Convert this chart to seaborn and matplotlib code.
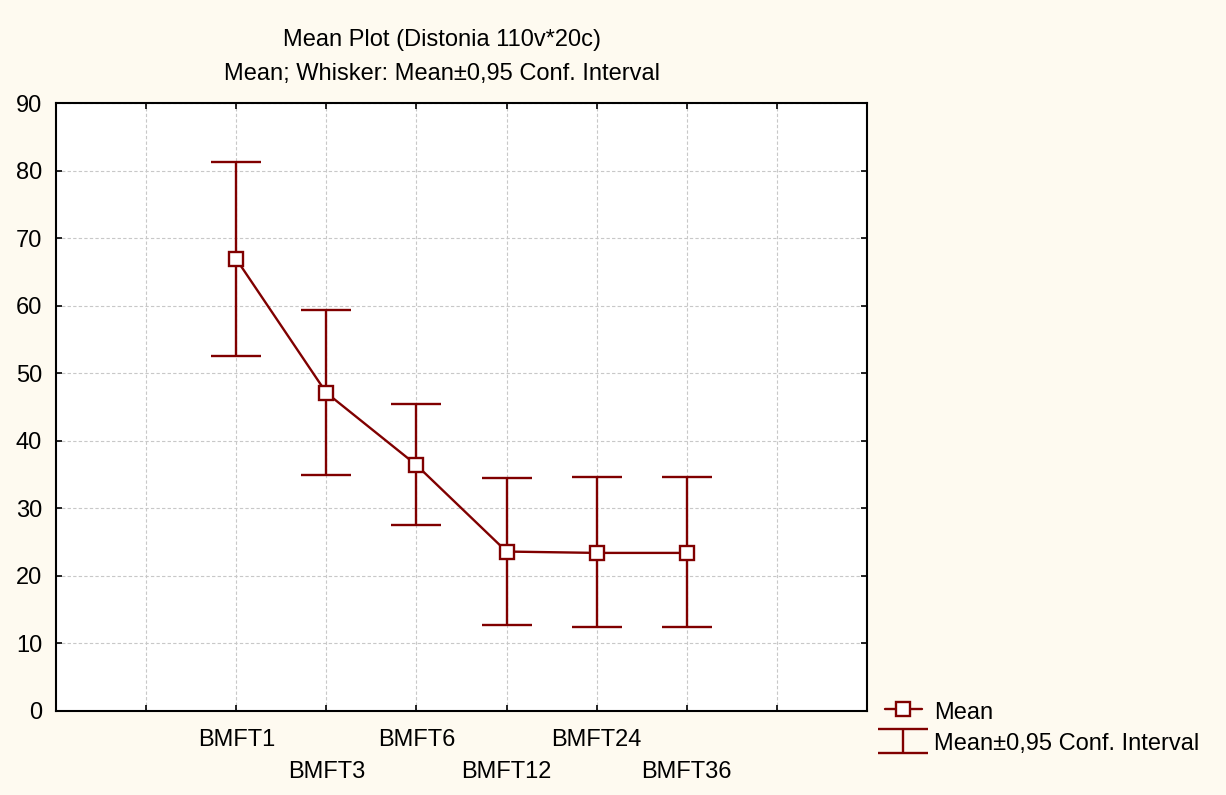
import matplotlib
matplotlib.use("Agg")
import matplotlib.pyplot as plt
import seaborn as sns
import pandas as pd
from matplotlib.lines import Line2D

# data
groups = ['BMFT1', 'BMFT3', 'BMFT6', 'BMFT12', 'BMFT24', 'BMFT36']
means = [66.9, 47.1, 36.4, 23.6, 23.4, 23.4]
ci_low = [52.6, 34.9, 27.5, 12.7, 12.4, 12.4]
ci_high = [81.2, 59.4, 45.5, 34.5, 34.6, 34.6]

df = pd.DataFrame({'pos': range(len(groups)), 'group': groups, 'mean': means,
                   'lo': ci_low, 'hi': ci_high})

sns.set_style('white')
plt.rcParams['font.family'] = ['Liberation Sans', 'DejaVu Sans']
plt.rcParams['text.color'] = 'black'

fs = 17
red = '#800000'
fig = plt.figure(figsize=(12.26, 7.95), dpi=100, facecolor='#FEFAF0')
ax = fig.add_axes([0.0457, 0.1057, 0.6615, 0.7647])
ax.set_facecolor('white')

# whiskers
err = ax.errorbar(df['pos'], df['mean'],
                  yerr=[df['mean'] - df['lo'], df['hi'] - df['mean']],
                  fmt='none', ecolor=red, elinewidth=1.7, capsize=18, capthick=1.7,
                  zorder=3)
# means
sns.lineplot(data=df, x='pos', y='mean', ax=ax, color=red, linewidth=1.7,
             marker='s', markersize=9.5, markerfacecolor='white',
             markeredgecolor=red, markeredgewidth=1.7, zorder=4)

ax.set_xlim(-2, 7)
ax.set_ylim(0, 90)
ax.set_yticks(range(0, 91, 10))
ax.set_xticks(range(-1, 7))
labels = [''] + [g if i % 2 == 0 else '\n' + g for i, g in enumerate(groups)] + ['']
ax.set_xticklabels(labels)
ax.set_xlabel('')
ax.set_ylabel('')
ax.tick_params(direction='in', length=4, width=1.2, labelsize=fs, colors='black',
               top=True, right=True, bottom=True, left=True)
ax.tick_params(axis='x', pad=13)
ax.tick_params(axis='y', pad=10)
for lab in ax.get_xticklabels():
    lab.set_linespacing(1.6)
ax.grid(True, linestyle=(0, (3, 2)), color='#c8c8c8', linewidth=0.8)
for s in ax.spines.values():
    s.set_color('black')
    s.set_linewidth(1.5)

fig.text(0.3605, 0.950, 'Mean Plot (Distonia 110v*20c)', ha='center', va='center', fontsize=fs)
fig.text(0.3605, 0.907, 'Mean; Whisker: Mean\u00b10,95 Conf. Interval', ha='center', va='center', fontsize=fs)

mean_handle = Line2D([], [], color=red, linewidth=1.7, marker='s', markersize=9.5,
                     markerfacecolor='white', markeredgecolor=red, markeredgewidth=1.7)
fig.legend([mean_handle, err], ['Mean', 'Mean\u00b10,95 Conf. Interval'],
           loc='upper left', bbox_to_anchor=(0.7215, 0.120), frameon=False,
           fontsize=fs, handlelength=1.6, handleheight=1.1, handletextpad=0.5,
           labelspacing=0.3, borderaxespad=0, borderpad=0)

plt.savefig('out.png', dpi=100, facecolor=fig.get_facecolor())
plt.close()
